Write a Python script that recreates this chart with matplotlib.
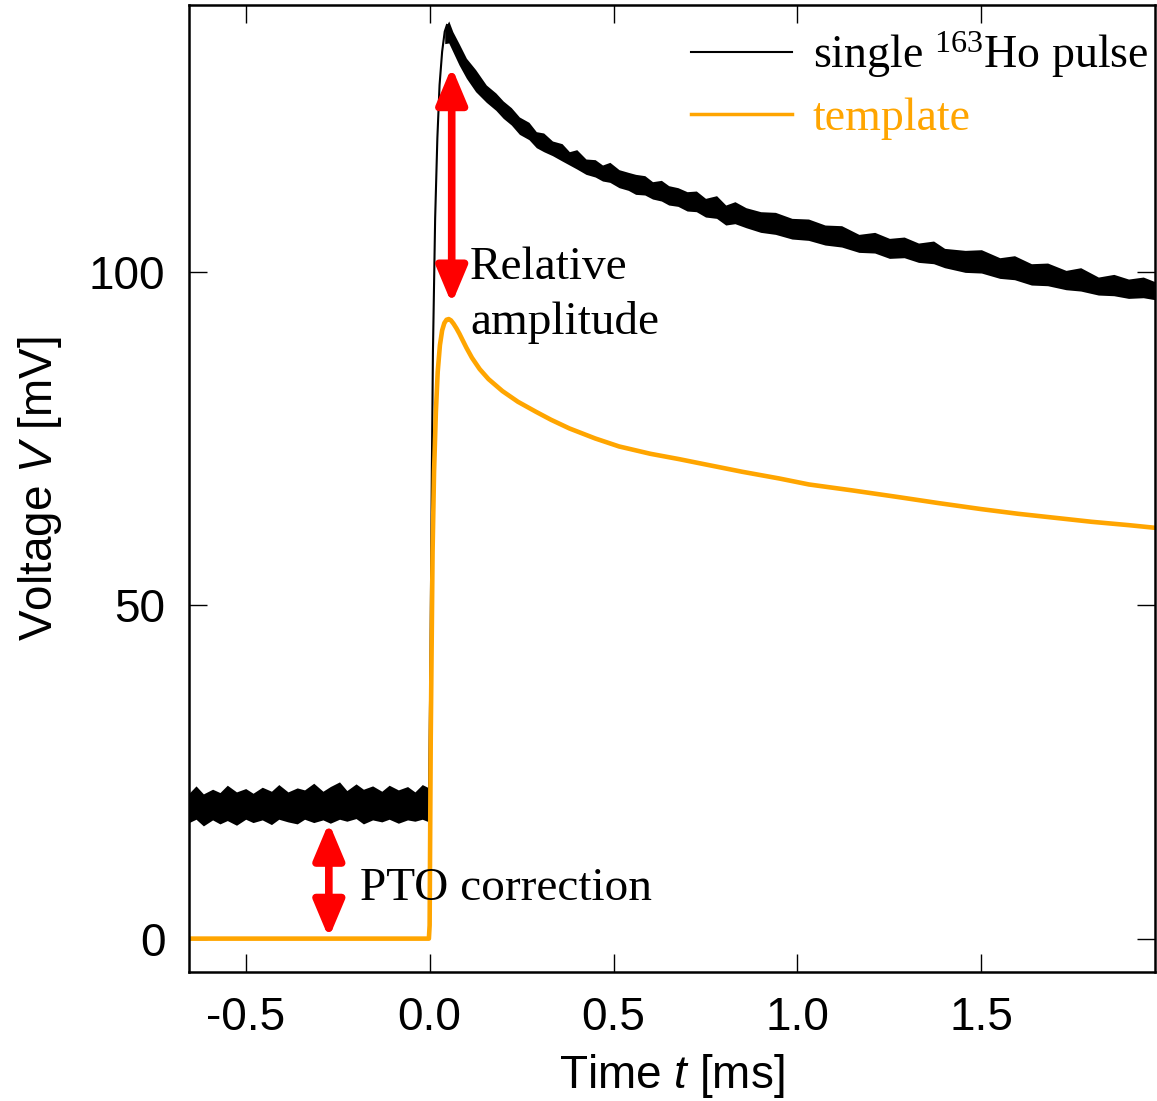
#!/usr/bin/env python3
import matplotlib
matplotlib.use("Agg")
import matplotlib.pyplot as plt
from matplotlib.lines import Line2D

# values (t in ms, V in mV)

# noisy baseline of the single pulse: upper / lower envelope of the trace
base_t = [-0.654, -0.635, -0.615, -0.59, -0.57, -0.55, -0.525, -0.50, -0.48,
          -0.455, -0.43, -0.41, -0.385, -0.36, -0.34, -0.315, -0.29, -0.27,
          -0.245, -0.225, -0.20, -0.18, -0.155, -0.13, -0.11, -0.085, -0.06,
          -0.04, -0.02, -0.002]
base_hi = [21.8, 22.9, 21.7, 22.4, 21.9, 23.0, 22.0, 22.5, 21.8, 22.7,
           22.1, 23.1, 22.0, 22.6, 22.3, 23.3, 22.1, 22.8, 23.5, 22.2,
           23.2, 22.4, 22.9, 22.1, 23.0, 22.3, 22.8, 22.0, 23.1, 22.6]
base_lo = [17.4, 17.9, 16.9, 17.8, 17.2, 17.7, 17.0, 17.9, 17.4, 17.8,
           17.1, 17.9, 17.5, 17.2, 17.9, 17.4, 17.8, 17.3, 17.9, 17.6,
           18.0, 17.2, 17.8, 17.5, 17.9, 17.3, 17.8, 17.6, 17.9, 17.5]

# fast rise of the pulse
rise_t = [-0.002, 0.002, 0.006, 0.009, 0.015, 0.021, 0.027, 0.034, 0.041, 0.047]
rise_v = [20, 40, 70, 88, 108, 120, 128, 133, 136, 137]

# decay of the pulse: upper / lower envelope
dec_t = [0.041, 0.052, 0.063, 0.08, 0.10, 0.125, 0.154, 0.18, 0.20, 0.222,
         0.244, 0.27, 0.29, 0.31, 0.334, 0.36, 0.38, 0.40, 0.425, 0.45,
         0.47, 0.49, 0.515, 0.54, 0.56, 0.585, 0.606, 0.63, 0.65, 0.675,
         0.70, 0.725, 0.75, 0.78, 0.805, 0.83, 0.86, 0.90, 0.94, 0.985,
         1.03, 1.075, 1.12, 1.167, 1.21, 1.25, 1.29, 1.329, 1.37, 1.40,
         1.456, 1.50, 1.55, 1.59, 1.636, 1.68, 1.73, 1.77, 1.818, 1.86,
         1.90, 1.94, 1.972]
dec_hi = [136.5, 137.6, 136.0, 134.2, 132.0, 130.3, 128.0, 126.8, 125.6, 124.6,
          123.2, 122.4, 121.0, 120.8, 119.6, 119.2, 118.0, 118.3, 116.9, 116.8,
          116.0, 116.4, 115.3, 114.9, 114.6, 114.4, 113.5, 113.7, 112.9, 112.6,
          112.0, 112.1, 111.0, 111.4, 110.0, 110.5, 109.6, 109.0, 108.9, 108.0,
          107.9, 107.0, 106.9, 105.6, 105.9, 105.0, 105.2, 104.3, 104.6, 103.5,
          103.2, 103.3, 102.1, 102.4, 101.2, 101.3, 100.2, 100.6, 99.2, 99.6,
          98.9, 99.2, 98.5]
dec_lo = [134.2, 134.3, 133.0, 131.0, 129.0, 127.0, 125.4, 124.2, 123.0, 122.0,
          120.6, 119.8, 118.6, 118.0, 117.4, 116.6, 116.0, 115.4, 114.6, 114.2,
          113.6, 113.4, 112.6, 112.2, 111.6, 111.5, 110.9, 110.6, 110.0, 109.8,
          109.1, 109.0, 108.2, 108.0, 107.0, 107.2, 106.6, 105.9, 105.6, 104.9,
          104.7, 104.0, 103.7, 102.9, 102.8, 102.0, 102.1, 101.4, 101.2, 100.6,
          99.9, 99.8, 99.0, 98.8, 98.0, 97.9, 97.3, 97.1, 96.5, 96.4,
          96.0, 96.1, 95.8]

# template
tmpl_t = [-0.654, -0.002, 0.0, 0.003, 0.008, 0.012, 0.017, 0.022, 0.028,
          0.034, 0.04, 0.046, 0.052, 0.058, 0.065, 0.073, 0.081, 0.09,
          0.10, 0.115, 0.136, 0.16, 0.198, 0.24, 0.289, 0.33, 0.38, 0.45,
          0.515, 0.6, 0.678, 0.75, 0.85, 0.95, 1.031, 1.15, 1.275, 1.384,
          1.5, 1.6, 1.7, 1.8, 1.9, 1.972]
tmpl_v = [0, 0, 2, 30, 58, 70, 79, 85, 89.0,
          91.2, 92.3, 92.8, 92.9, 92.7, 92.2, 91.5, 90.7, 89.7,
          88.6, 87.1, 85.4, 83.9, 82.1, 80.5, 79.0, 77.8, 76.5, 75.0,
          73.8, 72.7, 71.9, 71.1, 70.0, 69.0, 68.1, 67.2, 66.2, 65.3,
          64.4, 63.7, 63.1, 62.5, 62.0, 61.6]

# arrows: (t, V from, V to)
amp_arrow = (0.06, 95.2, 130.7)
pto_arrow = (-0.274, 0.1, 17.4)

xticks = [-0.5, 0.0, 0.5, 1.0, 1.5]
yticks = [0, 50, 100]

ORANGE = "#ffa500"


def main():
    plt.rcParams["font.family"] = ["Liberation Sans", "DejaVu Sans"]
    plt.rcParams["axes.unicode_minus"] = False
    plt.rcParams["mathtext.fontset"] = "custom"
    plt.rcParams["mathtext.rm"] = "Liberation Serif"
    plt.rcParams["mathtext.it"] = "Liberation Sans:italic"

    fig = plt.figure(figsize=(11.57, 11.01), dpi=100)
    ax = fig.add_axes([0.1634, 0.1172, 0.8349, 0.8783])

    # single pulse
    ax.fill_between(base_t, base_lo, base_hi, color="black", lw=0)
    ax.plot(rise_t, rise_v, color="black", lw=1.5)
    ax.fill_between(dec_t, dec_lo, dec_hi, color="black", lw=0)

    # template
    ax.plot(tmpl_t, tmpl_v, color=ORANGE, lw=3.3, solid_joinstyle="round")

    # arrows
    for t, v0, v1 in (amp_arrow, pto_arrow):
        ax.annotate("", xy=(t, v1), xytext=(t, v0),
                    arrowprops=dict(arrowstyle="<|-|>,head_length=1.0,head_width=0.42",
                                    color="red", lw=5.5, mutation_scale=22,
                                    shrinkA=0, shrinkB=0))

    serif = {"family": "Liberation Serif", "size": 34}
    ax.text(0.11, 96.5, "Relative\namplitude", fontdict=serif,
            va="center", ha="left", linespacing=1.35)
    ax.text(-0.19, 7.5, "PTO correction", fontdict=serif, va="center", ha="left")

    handles = [Line2D([], [], color="black", lw=1.5),
               Line2D([], [], color=ORANGE, lw=2.5)]
    labels = ["single $\\mathrm{^{163}}$Ho pulse", "template"]
    ax.legend(handles, labels, loc="upper right", bbox_to_anchor=(1.0, 0.982),
              frameon=False, prop={"family": "Liberation Serif", "size": 33},
              handlelength=2.2, handletextpad=0.45, labelspacing=0.38,
              borderaxespad=0.0, borderpad=0.15, labelcolor="linecolor")

    ax.set_xlim(-0.654, 1.972)
    ax.set_ylim(-5, 140)
    ax.set_xticks(xticks)
    ax.set_xticklabels([f"{v:.1f}" for v in xticks])
    ax.set_yticks(yticks)
    ax.tick_params(direction="in", length=13, width=1, top=True, right=True,
                   labelsize=33)
    ax.tick_params(axis="x", pad=17)
    ax.tick_params(axis="y", pad=17)
    for s in ax.spines.values():
        s.set_linewidth(1.8)

    ax.set_xlabel("Time $t$ [ms]", fontsize=33, labelpad=9)
    ax.set_ylabel("Voltage $V$ [mV]", fontsize=33, labelpad=18)

    fig.savefig("out.png", dpi=100)


if __name__ == "__main__":
    main()
